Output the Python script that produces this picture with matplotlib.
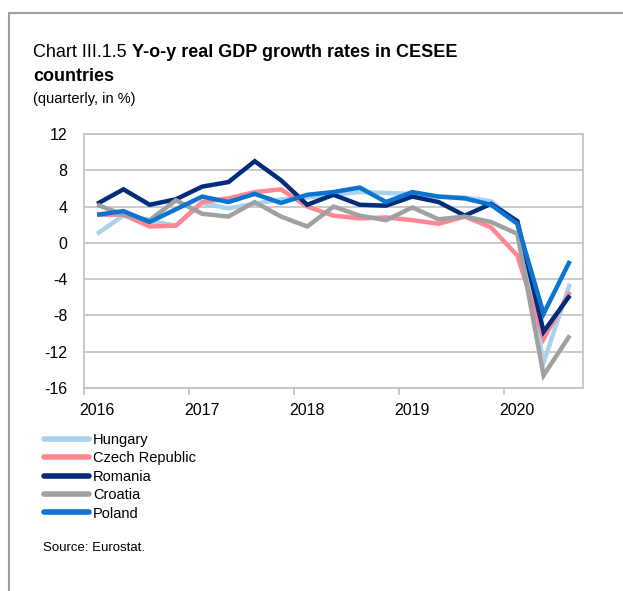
import matplotlib
matplotlib.use("Agg")
import matplotlib.pyplot as plt
from matplotlib.lines import Line2D

plt.rcParams['font.family'] = ['Liberation Sans', 'DejaVu Sans']
plt.rcParams['axes.unicode_minus'] = False

quarters = [f"{y}Q{q}" for y in range(2016, 2021) for q in range(1, 5)][:19]
year_labels = ["2016", "2017", "2018", "2019", "2020"]

hungary = [1.0, 3.0, 2.4, 1.9, 4.4, 3.8, 4.3, 4.8, 5.0, 5.3, 5.6, 5.5, 5.4, 5.1, 5.0, 4.6, 2.2, -13.2, -4.5]
czech = [3.1, 3.1, 1.8, 1.9, 4.5, 4.9, 5.6, 5.9, 4.0, 3.0, 2.7, 2.8, 2.5, 2.1, 2.9, 1.7, -1.4, -10.6, -5.4]
romania = [4.3, 5.9, 4.2, 4.8, 6.2, 6.7, 9.0, 6.9, 4.2, 5.3, 4.2, 4.1, 5.1, 4.5, 3.0, 4.3, 2.4, -9.8, -5.8]
croatia = [4.2, 3.1, 2.5, 4.7, 3.2, 2.9, 4.5, 2.9, 1.8, 4.0, 3.0, 2.5, 3.9, 2.6, 2.9, 2.3, 1.0, -14.6, -10.2]
poland = [3.1, 3.5, 2.3, 3.7, 5.1, 4.5, 5.4, 4.4, 5.3, 5.6, 6.1, 4.5, 5.6, 5.1, 4.9, 4.2, 2.1, -7.8, -2.0]

series = [
    ("Hungary", hungary, "#A9D2EE"),
    ("Czech Republic", czech, "#FF8793"),
    ("Romania", romania, "#002D7A"),
    ("Croatia", croatia, "#A0A0A0"),
    ("Poland", poland, "#0A74D0"),
]

fig = plt.figure(figsize=(6.23, 5.91), dpi=100)
ax = fig.add_axes([84/623, 1-388/591, (583-84)/623, (388-134)/591])

x = list(range(len(quarters)))
for name, vals, col in series:
    ax.plot(x, vals, color=col, lw=3.2, solid_capstyle='butt', solid_joinstyle='miter', label=name)

ax.set_xlim(-0.5, 18.5)
ax.set_ylim(-16, 12)
ax.set_yticks(range(-16, 13, 4))
ax.yaxis.grid(True, color="#C0C0C0", lw=1.2)
ax.set_axisbelow(True)
ax.tick_params(axis='y', length=0, labelsize=11.5, pad=12)
ax.set_xticks([-0.5, 3.5, 7.5, 11.5, 15.5])
ax.set_xticklabels([])
ax.set_xticks([0, 4, 8, 12, 16], minor=True)
ax.set_xticklabels(year_labels, minor=True)
ax.tick_params(axis='x', which='major', length=5, color="#BFBFBF", width=1.2)
ax.tick_params(axis='x', which='minor', length=0, labelsize=11.5, pad=11)
for s in ax.spines.values():
    s.set_color("#C0C0C0")
    s.set_linewidth(1.2)

# frame lines
fig.add_artist(Line2D([9/623, 1], [1-13/591, 1-13/591], color="#A0A0A0", lw=1.5))
fig.add_artist(Line2D([9/623, 9/623], [0, 1-13/591], color="#A0A0A0", lw=1.5))

t = fig.text(33/623, 1-57/591, "Chart III.1.5 ", fontsize=13, ha='left', va='baseline')
fig.canvas.draw()
bb = t.get_window_extent()
fig.text(bb.x1/623, 1-57/591, "Y-o-y real GDP growth rates in CESEE", fontsize=13,
         fontweight='bold', ha='left', va='baseline')
fig.text(33/623, 1-81/591, "countries", fontsize=13, fontweight='bold', ha='left', va='baseline')
fig.text(33/623, 1-103/591, "(quarterly, in %)", fontsize=10.5, ha='left', va='baseline')

leg = fig.legend(loc='upper left', bbox_to_anchor=(44/623, 1-433/591), frameon=False,
                 fontsize=10.5, handlelength=3.1, handletextpad=0.25, labelspacing=0.3,
                 borderpad=0, borderaxespad=0)
for h in leg.get_lines():
    h.set_linewidth(4)
    h.set_solid_capstyle('round')

fig.text(43/623, 1-551/591, "Source: Eurostat.", fontsize=9.5, ha='left', va='baseline')

fig.savefig("out.png", dpi=100)
